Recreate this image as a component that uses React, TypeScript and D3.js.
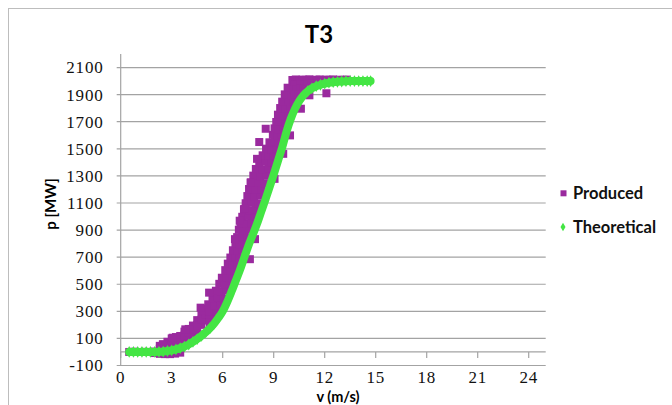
import React from "react";
import * as d3 from "d3";

const chartTitle = "T3";
const xTitle = "v (m/s)";
const yTitle = "p [MW]";
const seriesNames = ["Produced", "Theoretical"];
const xTicks = [0, 3, 6, 9, 12, 15, 18, 21, 24];
const yTicks = [-100, 100, 300, 500, 700, 900, 1100, 1300, 1500, 1700, 1900, 2100];

// Theoretical power curve [v, p]
const theoretical: [number, number][] = [
  [0.5, 0], [0.75, 0], [1, 0], [1.25, 0], [1.5, 0], [1.75, 0], [2, 0], [2.25, 1],
  [2.5, 3], [2.75, 7], [3, 12], [3.25, 19], [3.5, 28], [3.75, 40], [4, 55], [4.25, 74],
  [4.5, 95], [4.75, 119], [5, 145], [5.25, 175], [5.5, 210], [5.75, 252], [6, 300],
  [6.25, 365], [6.5, 440], [6.75, 520], [7, 600], [7.25, 690], [7.5, 780], [7.75, 860],
  [8, 940], [8.25, 1030], [8.5, 1120], [8.75, 1215], [9, 1310], [9.25, 1410], [9.5, 1510],
  [9.75, 1625], [10, 1720], [10.25, 1795], [10.5, 1852], [10.75, 1895], [11, 1925],
  [11.25, 1947], [11.5, 1962], [11.75, 1973], [12, 1982], [12.25, 1988], [12.5, 1992],
  [12.75, 1995], [13, 1997], [13.25, 1999], [13.5, 2000], [13.75, 2000], [14, 2000],
  [14.25, 2000], [14.5, 2000], [14.7, 2000],
];

// Produced: low-wind part
const producedLow: [number, number][] = [
  [0.5, 0], [0.8, 2], [1.1, 0], [1.4, 1], [1.7, 0], [2.0, 3],
  [2.0, -8], [2.3, -14], [2.6, -16], [2.9, -16], [3.2, -12], [3.5, -5],
  [2.3, 45], [2.3, 24], [2.5, 56], [2.5, 30], [2.75, 75], [2.75, 40], [3.0, 100], [3.0, 56],
  [3.25, 110], [3.25, 65], [3.5, 118], [3.5, 73], [3.75, 150], [3.75, 95], [4.0, 170],
  [4.0, 112], [4.25, 195], [4.25, 135], [4.5, 235], [4.5, 162], [4.75, 275], [4.75, 200],
  [5.0, 320], [5.0, 232],
  [3.75, 122], [4.0, 141], [4.25, 165], [4.5, 198], [4.75, 238], [5.0, 276],
  [5.25, 255], [5.5, 262], [5.25, 215], [5.5, 240],
];

// Produced: rising part
const producedRise: [number, number][] = [
  [4.9, 305], [5.25, 298], [5.65, 302],
  [5.15, 352], [5.5, 346], [5.85, 355],
  [5.4, 398], [5.7, 404], [6.05, 396],
  [5.6, 452], [5.9, 447], [6.2, 455],
  [5.8, 503], [6.1, 497], [6.4, 502],
  [5.95, 548], [6.25, 553], [6.55, 546],
  [6.15, 604], [6.45, 598], [6.7, 603],
  [6.3, 652], [6.6, 647], [6.85, 655],
  [6.45, 697], [6.75, 703], [7.0, 698],
  [6.6, 751], [6.85, 746], [7.15, 754],
  [6.75, 802], [7.0, 797], [7.3, 803],
  [6.85, 848], [7.15, 853], [7.45, 846],
  [6.95, 903], [7.25, 897], [7.55, 902],
  [7.05, 951], [7.4, 946], [7.7, 955],
  [7.15, 998], [7.5, 1004], [7.85, 997],
  [7.25, 1052], [7.6, 1047], [7.95, 1053],
  [7.35, 1098], [7.7, 1103], [8.1, 1096],
  [7.45, 1151], [7.85, 1146], [8.2, 1154],
  [7.55, 1203], [7.95, 1197], [8.3, 1202],
  [7.65, 1248], [8.05, 1253], [8.45, 1246],
  [7.8, 1302], [8.2, 1297], [8.6, 1303],
  [7.95, 1351], [8.35, 1346], [8.7, 1354],
  [8.15, 1398], [8.5, 1404], [8.85, 1397],
  [8.35, 1452], [8.7, 1447], [9.0, 1453],
  [8.55, 1501], [8.85, 1496], [9.15, 1504],
  [8.75, 1548], [9.05, 1553], [9.3, 1546],
  [8.95, 1603], [9.2, 1597], [9.45, 1602],
  [9.05, 1651], [9.3, 1646], [9.6, 1654],
  [9.15, 1698], [9.4, 1703], [9.7, 1697],
  [9.25, 1752], [9.55, 1747], [9.85, 1753],
  [9.38, 1801], [9.7, 1796], [10.0, 1804],
  [9.5, 1848], [9.85, 1853], [10.15, 1846],
  [9.65, 1902], [10.05, 1897], [10.4, 1903],
  [9.82, 1951], [10.3, 1946], [10.75, 1954],
];

// Produced: rated-power plateau
const producedPlateau: [number, number][] = [
  [10.1, 2008], [10.3, 2012], [10.5, 2006], [10.7, 2011], [10.9, 2009], [11.1, 2013],
  [11.3, 2007], [11.5, 2010], [11.7, 2012], [11.9, 2008], [12.1, 2011], [12.3, 2009],
  [12.5, 2012], [12.7, 2008], [12.9, 2010], [13.1, 2009], [13.3, 2011],
  [10.2, 1975], [10.4, 1972], [10.6, 1978], [10.8, 1974], [11.0, 1976], [11.2, 1980],
  [11.4, 1982], [11.6, 1985], [11.8, 1988],
  [10.15, 1940], [10.35, 1936], [10.55, 1942], [10.75, 1938],
  [10.25, 1902], [10.45, 1898],
];

// Produced: scattered outliers
const producedOutliers: [number, number][] = [
  [2.48, 56], [3.06, 105], [3.8, 167], [4.7, 327], [5.2, 438], [6.72, 833],
  [7.0, 969], [7.27, 1056], [7.65, 1253], [8.02, 1426], [8.15, 1550], [8.53, 1648],
  [7.6, 685], [7.9, 833], [9.05, 1278], [9.56, 1463], [9.96, 1599], [10.6, 1796],
  [11.1, 1895], [12.1, 1910],
];

const produced = [...producedLow, ...producedRise, ...producedPlateau, ...producedOutliers];

const PURPLE = "#9a2a9e";
const GREEN = "#44e544";
const GRID = "#a3a3a3";

export default function App() {
  const left = 120.7, right = 545.7, top = 54, bottom = 365.5;
  const x = d3.scaleLinear().domain([0, 25]).range([left, right]);
  const y = d3.scaleLinear().domain([-100, 2200]).range([bottom, top]);
  const line = d3
    .line<[number, number]>()
    .x((d) => x(d[0]))
    .y((d) => y(d[1]))
    .curve(d3.curveMonotoneX);
  const diamond = d3.symbol().type(d3.symbolDiamond).size(40)();
  const diamondLegend = d3.symbol().type(d3.symbolDiamond).size(22)();
  const sq = 8;
  const sans = "Lato, 'Liberation Sans', sans-serif";
  const serif = "'Liberation Serif', serif";

  return (
    <svg
      width={672}
      height={405}
      style={{ position: "absolute", left: 0, top: 0, background: "#fff" }}
    >
      <rect x={8.5} y={8.5} width={700} height={420} fill="#fff" stroke="#bdbdbd" />
      <text
        x={319}
        y={43}
        textAnchor="middle"
        fontFamily={sans}
        fontWeight="bold"
        fontSize={24}
        fill="#000"
      >
        {chartTitle}
      </text>

      {/* grid lines */}
      {yTicks.map((t) => (
        <g key={t}>
          <line x1={left - 4} x2={right} y1={y(t)} y2={y(t)} stroke={GRID} strokeWidth={1.2} />
          <text
            x={103.5}
            y={y(t)}
            dy="0.35em"
            textAnchor="end"
            fontFamily={serif}
            fontSize={17}
            letterSpacing={0.8}
            fill="#111"
          >
            {t}
          </text>
        </g>
      ))}
      {/* zero axis line */}
      <line x1={left} x2={right} y1={y(0)} y2={y(0)} stroke={GRID} strokeWidth={1.2} />
      {/* y axis */}
      <line x1={left} x2={left} y1={top} y2={bottom} stroke={GRID} strokeWidth={1.2} />
      {xTicks.map((t) => (
        <g key={t}>
          <line x1={x(t)} x2={x(t)} y1={y(0)} y2={y(0) + 6} stroke={GRID} strokeWidth={1.2} />
          <text
            x={x(t)}
            y={377}
            dy="0.35em"
            textAnchor="middle"
            fontFamily={serif}
            fontSize={17}
            letterSpacing={0.8}
            fill="#111"
          >
            {t}
          </text>
        </g>
      ))}

      <text
        transform={`translate(55.5,204) rotate(-90)`}
        textAnchor="middle"
        fontFamily={sans}
        fontWeight="bold"
        fontSize={15}
        fill="#000"
      >
        {yTitle}
      </text>
      <text
        x={338}
        y={401.5}
        textAnchor="middle"
        fontFamily={sans}
        fontWeight="bold"
        fontSize={14.5}
        fill="#000"
      >
        {xTitle}
      </text>

      {/* produced */}
      {produced.map((d, i) => (
        <rect
          key={i}
          x={x(d[0]) - sq / 2}
          y={y(d[1]) - sq / 2}
          width={sq}
          height={sq}
          fill={PURPLE}
        />
      ))}

      {/* theoretical */}
      <path d={line(theoretical) || ""} fill="none" stroke={GREEN} strokeWidth={8} strokeLinecap="round" />
      {theoretical.map((d, i) => (
        <path key={i} d={diamond || ""} transform={`translate(${x(d[0])},${y(d[1])})`} fill={GREEN} />
      ))}

      {/* legend */}
      <rect x={560.5} y={190.3} width={6} height={6} fill={PURPLE} />
      <text x={573} y={199.3} fontFamily={sans} fontWeight="bold" fontSize={16.5} fill="#111">
        {seriesNames[0]}
      </text>
      <path d={diamondLegend || ""} transform="translate(563,227)" fill={GREEN} />
      <text x={573} y={233} fontFamily={sans} fontWeight="bold" fontSize={16.5} fill="#111">
        {seriesNames[1]}
      </text>
    </svg>
  );
}
